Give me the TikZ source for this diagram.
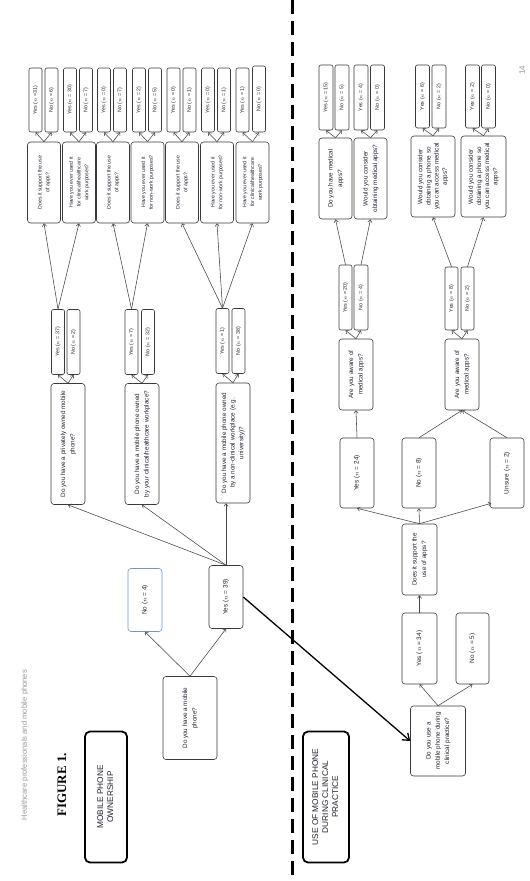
\documentclass[tikz,border=0pt]{standalone}
\usepackage{fontspec}
\setmainfont{Liberation Sans}
\newfontfamily\figserif{Liberation Serif}
\usetikzlibrary{arrows.meta,calc}
\definecolor{boxc}{HTML}{3A3A3A}
\definecolor{linec}{HTML}{444444}
\definecolor{txtc}{HTML}{222233}
\definecolor{bluec}{HTML}{6A96D8}
\newcommand{\rt}[1]{\rotatebox{90}{\begin{tabular}{@{}c@{}}#1\end{tabular}}}
\newcommand{\nn}{$n$}
\begin{document}
\begin{tikzpicture}[x=1pt,y=-1pt,
  box/.style={draw=boxc, rounded corners=3pt, line width=0.6pt, inner sep=0pt, fill=white, text=txtc},
  qbig/.style={box, font=\fontsize{6.3}{9.3}\selectfont},
  qfour/.style={box, font=\fontsize{6.3}{8.2}\selectfont},
  qtop/.style={box, font=\fontsize{5.2}{7.8}\selectfont},
  ynbig/.style={box, font=\fontsize{6.4}{8}\selectfont},
  ynsm/.style={box, rounded corners=2pt, minimum width=13pt, font=\fontsize{5.3}{6.5}\selectfont},
  titlebox/.style={draw=black, rounded corners=5pt, line width=1.8pt, inner sep=0pt, font=\fontsize{8.3}{10}\selectfont, text=txtc},
  arr/.style={draw=linec, line width=0.55pt, -{Straight Barb[length=2.6pt,width=4.2pt]}},
  bigarr/.style={draw=black, line width=1.3pt, -{Straight Barb[length=6pt,width=9pt]}}
]
\useasboundingbox (0,0) rectangle (530,881);
\fill[white] (0,0) rectangle (530,881);

% header texts
\node[text=gray!80, font=\fontsize{7.6}{9}\selectfont, rotate=90] (runhead) at (25,745) {Healthcare professionals and mobile phones};
\node[font=\figserif\bfseries\fontsize{13}{15}\selectfont, rotate=90] (fig) at (62,785) {FIGURE 1.};
\node[text=gray!80, font=\fontsize{8}{9}\selectfont, rotate=90] (pnum) at (522,70) {14};

% divider
\coordinate (dtop) at (292,0);
\coordinate (dbot) at (292,881);
\draw[line width=3pt, dash pattern=on 14pt off 7pt] (dtop) -- (dbot);

% ---------------- left section ----------------
\node[titlebox, minimum width=42pt, minimum height=131pt] (t1) at (106,797) {\rt{MOBILE PHONE\\OWNERSHIP}};

\node[qbig, minimum width=54pt, minimum height=83pt] (q0) at (190,718) {\rt{Do you have a mobile\\phone?}};
\node[ynbig, draw=bluec, minimum width=34pt, minimum height=63pt] (no4) at (145,600) {\rt{No (\nn{} = 4)}};
\node[ynbig, minimum width=34pt, minimum height=63pt] (yes39) at (226,597) {\rt{Yes (\nn{} = 39)}};

\node[qbig, minimum width=34pt, minimum height=121pt] (q1) at (68,444) {\rt{Do you have a privately owned mobile\\phone?}};
\node[qbig, minimum width=34pt, minimum height=121pt] (q2) at (142,444) {\rt{Do you have a mobile phone owned\\by your clinical/healthcare workplace?}};
\node[qbig, font=\fontsize{6.3}{8.6}\selectfont, minimum width=34pt, minimum height=120pt] (q3) at (233,443) {\rt{Do you have a mobile phone owned\\by a non-clinical workplace (e.g.\\university)?}};

\node[ynsm, minimum height=65pt] (y37) at (58,342) {\rt{Yes (\nn{} = 37)}};
\node[ynsm, minimum height=65pt] (n2) at (73.5,342) {\rt{No (\nn{} = 2)}};
\node[ynsm, minimum height=65pt] (y7) at (131.5,342) {\rt{Yes (\nn{} = 7)}};
\node[ynsm, minimum height=65pt] (n32) at (148,342) {\rt{No (\nn{} = 32)}};
\node[ynsm, minimum height=65pt] (y1) at (222.5,341) {\rt{Yes (\nn{} = 1)}};
\node[ynsm, minimum height=65pt] (n38) at (238.5,341) {\rt{No (\nn{} = 38)}};

\node[qtop, minimum width=33pt, minimum height=81pt] (sa) at (44,182.5) {\rt{Does it support the use\\of apps?}};
\node[qtop, minimum width=33pt, minimum height=81pt] (sb) at (79,182.5) {\rt{Have you ever used it\\for clinical/healthcare\\work purposes?}};
\node[qtop, minimum width=33pt, minimum height=81pt] (sc) at (113,182.5) {\rt{Does it support the use\\of apps?}};
\node[qtop, minimum width=33pt, minimum height=81pt] (sd) at (147.5,182.5) {\rt{Have you ever used it\\for non-work purposes?}};
\node[qtop, minimum width=33pt, minimum height=81pt] (se) at (182,182.5) {\rt{Does it support the use\\of apps?}};
\node[qtop, minimum width=33pt, minimum height=81pt] (sf) at (217,182.5) {\rt{Have you ever used it\\for non-work purposes?}};
\node[qtop, minimum width=33pt, minimum height=81pt] (sg) at (252.5,182.5) {\rt{Have you ever used it\\for clinical/healthcare\\work purposes?}};

\node[ynsm, minimum height=64pt] (ya) at (35.5,100) {\rt{Yes (\nn{} =31)}};
\node[ynsm, minimum height=64pt] (na) at (51.5,100) {\rt{No (\nn{} = 6)}};
\node[ynsm, minimum height=64pt] (yb) at (70,100) {\rt{Yes (\nn{} = 30)}};
\node[ynsm, minimum height=64pt] (nb) at (86,100) {\rt{No (\nn{} = 7)}};
\node[ynsm, minimum height=64pt] (yc) at (104,100) {\rt{Yes (\nn{} = 0)}};
\node[ynsm, minimum height=64pt] (nc) at (120,100) {\rt{No (\nn{} = 7)}};
\node[ynsm, minimum height=64pt] (yd) at (139,100) {\rt{Yes (\nn{} = 2)}};
\node[ynsm, minimum height=64pt] (nd) at (155,100) {\rt{No (\nn{} = 5)}};
\node[ynsm, minimum height=64pt] (ye) at (173.5,100) {\rt{Yes (\nn{} = 0)}};
\node[ynsm, minimum height=64pt] (ne) at (189.5,100) {\rt{No (\nn{} = 1)}};
\node[ynsm, minimum height=64pt] (yf) at (208,100) {\rt{Yes (\nn{} = 0)}};
\node[ynsm, minimum height=64pt] (nf) at (224,100) {\rt{No (\nn{} = 1)}};
\node[ynsm, minimum height=64pt] (yg) at (242.5,100) {\rt{Yes (\nn{} = 1)}};
\node[ynsm, minimum height=66pt] (ng) at (259,99) {\rt{No (\nn{} = 0)}};

% left arrows
\draw[arr] (q0.north) -- (no4.south);
\draw[arr] (q0.north) -- (yes39.south);
\draw[arr] (yes39.north) -- (q1.south);
\draw[arr] (yes39.north) -- (q2.south);
\draw[arr] (yes39.north) -- (yes39.north |- q3.south);
\foreach \q/\y/\n in {q1/y37/n2, q2/y7/n32, q3/y1/n38}{
  \draw[arr] (\q.north) -- (\y.south);
  \draw[arr] (\q.north) -- (\n.south);
}
\draw[arr] (y37.north) -- (sa.south);
\draw[arr] (y37.north) -- (sb.south);
\draw[arr] (y7.north) -- (sc.south);
\draw[arr] (y7.north) -- (sd.south);
\draw[arr] (y1.north) -- (se.south);
\draw[arr] (y1.north) -- (sf.south);
\draw[arr] (y1.north) -- (sg.south);
\foreach \q/\y/\n in {sa/ya/na, sb/yb/nb, sc/yc/nc, sd/yd/nd, se/ye/ne, sf/yf/nf, sg/yg/ng}{
  \draw[arr] (\q.north) -- (\y.south);
  \draw[arr] (\q.north) -- (\n.south);
}

% ---------------- right section ----------------
\node[titlebox, minimum width=46pt, minimum height=131pt] (t2) at (326,797) {\rt{USE OF MOBILE PHONE\\DURING CLINICAL\\PRACTICE}};

\node[qbig, minimum width=55pt, minimum height=70pt] (douse) at (438,741) {\rt{Do you use a\\mobile phone during\\clinical practice?}};
\node[ynbig, minimum width=35pt, minimum height=71pt] (yes34) at (419.5,648.5) {\rt{Yes (\nn{} = 34)}};
\node[ynbig, minimum width=33pt, minimum height=71pt] (no5) at (472.5,648.5) {\rt{No (\nn{} = 5)}};
\node[qbig, minimum width=35pt, minimum height=71pt] (dsup) at (419.5,559.5) {\rt{Does it support the\\use of apps?}};

\node[ynbig, minimum width=34pt, minimum height=70pt] (yes24) at (357,473) {\rt{Yes (\nn{} = 24)}};
\node[ynbig, minimum width=34pt, minimum height=70pt] (no8) at (419,473) {\rt{No (\nn{} = 8)}};
\node[ynbig, minimum width=34pt, minimum height=70pt] (unsure) at (507,473) {\rt{Unsure (\nn{} = 2)}};

\node[qbig, minimum width=34pt, minimum height=71pt] (aware1) at (356,374.5) {\rt{Are you aware of\\medical apps?}};
\node[qbig, minimum width=34pt, minimum height=71pt] (aware2) at (462,374.5) {\rt{Are you aware of\\medical apps?}};

\node[ynsm, minimum height=65pt] (yes20) at (345.5,297.5) {\rt{Yes (\nn{} = 20)}};
\node[ynsm, minimum width=14pt, minimum height=65pt] (no4b) at (361,297.5) {\rt{No (\nn{} = 4)}};
\node[ynsm, minimum height=63pt] (yes8) at (451.5,298.5) {\rt{Yes (\nn{} = 8)}};
\node[ynsm, minimum height=63pt] (no2) at (467.5,298.5) {\rt{No (\nn{} = 2)}};

\node[qbig, minimum width=33pt, minimum height=81pt] (dhave) at (335.5,178.5) {\rt{Do you have medical\\apps?}};
\node[qbig, minimum width=33pt, minimum height=81pt] (wcons) at (370.5,178.5) {\rt{Would you consider\\obtaining medical apps?}};
\node[qfour, minimum width=44pt, minimum height=81pt] (wph1) at (433,176.5) {\rt{Would you consider\\obtaining a phone so\\you can access medical\\apps?}};
\node[qfour, minimum width=45pt, minimum height=81pt] (wph2) at (483.5,176.5) {\rt{Would you consider\\obtaining a phone so\\you can access medical\\apps?}};

\node[ynsm, minimum width=14pt, minimum height=65pt] (yes15) at (326,97.5) {\rt{Yes (\nn{} = 15)}};
\node[ynsm, minimum width=14pt, minimum height=65pt] (no5b) at (342,97.5) {\rt{No (\nn{} = 5)}};
\node[ynsm, minimum width=14pt, minimum height=65pt] (yes4) at (361,97.5) {\rt{Yes (\nn{} = 4)}};
\node[ynsm, minimum width=14pt, minimum height=65pt] (no0a) at (377.5,97.5) {\rt{No (\nn{} = 0)}};
\node[ynsm, minimum width=14pt, minimum height=63pt] (yes6) at (422.5,96.5) {\rt{Yes (\nn{} = 6)}};
\node[ynsm, minimum width=14pt, minimum height=63pt] (no2b) at (439,96.5) {\rt{No (\nn{} = 2)}};
\node[ynsm, minimum width=14pt, minimum height=63pt] (yes2) at (472.5,96.5) {\rt{Yes (\nn{} = 2)}};
\node[ynsm, minimum width=14pt, minimum height=63pt] (no0b) at (488.5,96.5) {\rt{No (\nn{} = 0)}};

% right arrows
\draw[bigarr] (yes39.east) -- (douse.west);
\draw[arr] (douse.north) -- (yes34.south);
\draw[arr] (douse.north) -- (no5.south);
\draw[arr] (yes34.north) -- (dsup.south);
\draw[arr] (dsup.north) -- (yes24.south);
\draw[arr] (dsup.north) -- (no8.south);
\draw[arr] (dsup.north) -- ([xshift=1.5pt,yshift=5pt]unsure.south west);
\draw[arr] (yes24.north) -- (aware1.south);
\draw[arr] (no8.north) -- (aware2.south);
\draw[arr] (unsure.north) -- (aware2.south);
\draw[arr] (aware1.north) -- (yes20.south);
\draw[arr] (aware1.north) -- (no4b.south);
\draw[arr] (aware2.north) -- (yes8.south);
\draw[arr] (aware2.north) -- (no2.south);
\draw[arr] (yes20.north) -- (dhave.south);
\draw[arr] (no4b.north) -- (wcons.south);
\draw[arr] (yes8.north) -- (wph1.south);
\draw[arr] (no2.north) -- (wph2.south);
\foreach \q/\y/\n in {dhave/yes15/no5b, wcons/yes4/no0a, wph1/yes6/no2b, wph2/yes2/no0b}{
  \draw[arr] (\q.north) -- (\y.south);
  \draw[arr] (\q.north) -- (\n.south);
}
\end{tikzpicture}
\end{document}
